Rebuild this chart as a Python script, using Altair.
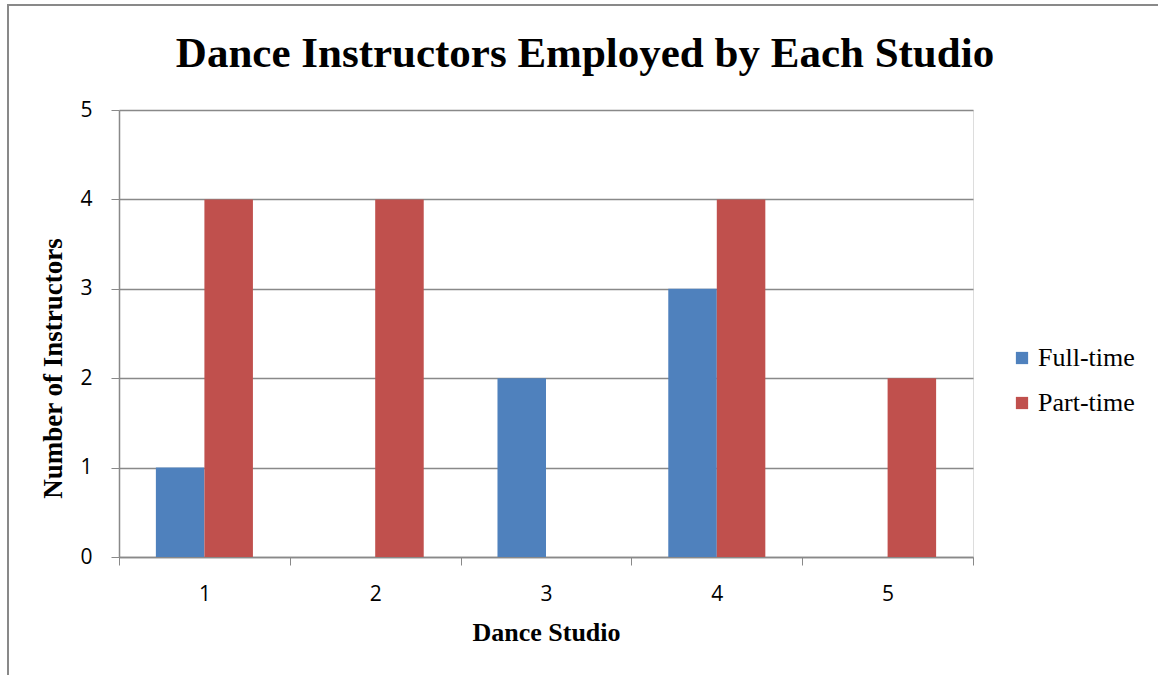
import altair as alt
import pandas as pd

studios = ["1", "2", "3", "4", "5"]
full_time = [1, 0, 2, 3, 0]
part_time = [4, 4, 0, 4, 2]
series = ["Full-time", "Part-time"]
colors = ["#4F81BD", "#C0504D"]

rows = []
for i, s in enumerate(studios):
    rows.append({"Studio": s, "Type": "Full-time", "Count": full_time[i]})
    rows.append({"Studio": s, "Type": "Part-time", "Count": part_time[i]})
df = pd.DataFrame(rows)

W, H = 854, 447
GRAY = "#898989"
SERIF = "Liberation Serif"
SANS = "Open Sans"

bars = alt.Chart(df).mark_bar().encode(
    x=alt.X("Studio:N", sort=studios,
            scale=alt.Scale(paddingInner=0, paddingOuter=0),
            axis=alt.Axis(title="Dance Studio", labelAngle=0, tickBand="extent",
                          domainColor=GRAY, tickColor=GRAY, tickSize=8, domainWidth=1.5,
                          labelFont=SANS, labelFontSize=21, labelColor="black",
                          labelPadding=18, titleFont=SERIF, titleFontSize=26,
                          titleFontWeight="bold", titleColor="black", titlePadding=15)),
    xOffset=alt.XOffset("Type:N", sort=series,
                        scale=alt.Scale(paddingOuter=0.76, paddingInner=0)),
    y=alt.Y("Count:Q", scale=alt.Scale(domain=[0, 5]),
            axis=alt.Axis(title="Number of Instructors", values=[0, 1, 2, 3, 4, 5],
                          grid=True, gridColor=GRAY, gridWidth=1.3,
                          domainColor=GRAY, tickColor=GRAY, tickSize=8, domainWidth=1.5,
                          labelFont=SANS, labelFontSize=21, labelColor="black",
                          labelPadding=19, titleFont=SERIF, titleFontSize=27,
                          titleFontWeight="bold", titleColor="black",
                          titleX=-52, titleY=258)),
    color=alt.Color("Type:N", sort=series,
                    scale=alt.Scale(domain=series, range=colors),
                    legend=alt.Legend(title=None, orient="none", legendX=890, legendY=235,
                                      symbolType="square", symbolSize=150,
                                      symbolStrokeWidth=0,
                                      labelFont=SERIF, labelFontSize=26, labelColor="black",
                                      rowPadding=19, labelOffset=3)),
)

frame = alt.Chart(pd.DataFrame({"a": [0]})).mark_rect(
    fill=None, stroke=GRAY, strokeWidth=2
).encode(
    x=alt.value(-111), y=alt.value(-105), x2=alt.value(1100), y2=alt.value(700)
)

chart = alt.layer(frame, bars).properties(
    width=W, height=H,
    title=alt.TitleParams("Dance Instructors Employed by Each Studio", font=SERIF,
                          fontSize=43, fontWeight="bold", color="black",
                          anchor="middle", dx=39, offset=-72),
    autosize=alt.AutoSizeParams(type="none"),
    padding={"left": 119, "top": 110, "right": 185, "bottom": 118},
).configure_view(stroke=None).configure(background="white")

chart.save("out.html", embed_options={"renderer": "svg", "actions": False})
